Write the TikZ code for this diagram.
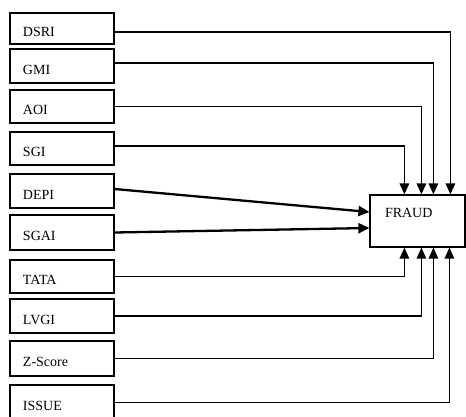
\documentclass[tikz,border=0pt]{standalone}
\usepackage{fontspec}
\setmainfont{Liberation Serif}
\usetikzlibrary{arrows.meta}
\begin{document}
\begin{tikzpicture}[x=1pt,y=-1pt,
  box/.style={draw,line width=1.2pt,minimum width=104pt,text width=78pt,inner xsep=13pt,inner ysep=0pt,align=left,
    font=\fontsize{14}{15}\selectfont,text height=16pt,text depth=0pt},
  conn/.style={line width=1.5pt,-{Triangle[length=11pt,width=9.5pt]}},
  thick conn/.style={line width=2.3pt,-{Triangle[length=11pt,width=10pt]}}]
\useasboundingbox (0,0) rectangle (466,416);
\node[box,minimum height=31pt] (dsri)  at (62,28.5) {DSRI};
\node[box,minimum height=34pt] (gmi)   at (62,66) {GMI};
\node[box,minimum height=33pt] (aoi)   at (62,106.5) {AOI};
\node[box,minimum height=33pt] (sgi)   at (62,148.5) {SGI};
\node[box,minimum height=34pt] (depi)  at (62,191) {DEPI};
\node[box,minimum height=35pt] (sgai)  at (62,232.5) {SGAI};
\node[box,minimum height=33pt] (tata)  at (62,276.5) {TATA};
\node[box,minimum height=34pt] (lvgi)  at (62,316) {LVGI};
\node[box,minimum height=35pt] (zscore) at (62,358.5) {Z-Score};
\node[box,minimum height=35pt] (issue) at (62,402.5) {ISSUE};
\node[draw,line width=1.2pt,minimum width=95pt,minimum height=52pt,text width=65pt,inner xsep=15pt,inner ysep=0pt,align=left,
  font=\fontsize{14}{15}\selectfont,text height=0pt,text depth=7pt] (fraud) at (417.5,221) {FRAUD};
% top inputs
\draw[conn] ([yshift=-3.5pt]dsri.east) -| ([xshift=81pt]fraud.north west);
\draw[conn] ([yshift=3pt]gmi.east) -| ([xshift=64pt]fraud.north west);
\draw[conn] (aoi.east) -| ([xshift=52pt]fraud.north west);
\draw[conn] ([yshift=2.5pt]sgi.east) -| ([xshift=35pt]fraud.north west);
% left inputs
\draw[thick conn] ([yshift=2pt]depi.east) -- ([yshift=9pt]fraud.west);
\draw[thick conn] (sgai.east) -- ([yshift=-7pt]fraud.west);
% bottom inputs
\draw[conn] (tata.east) -| ([xshift=35pt]fraud.south west);
\draw[conn] (lvgi.east) -| ([xshift=52pt]fraud.south west);
\draw[conn] (zscore.east) -| ([xshift=64pt]fraud.south west);
\draw[conn] (issue.east) -| ([xshift=80pt]fraud.south west);
\end{tikzpicture}
\end{document}
